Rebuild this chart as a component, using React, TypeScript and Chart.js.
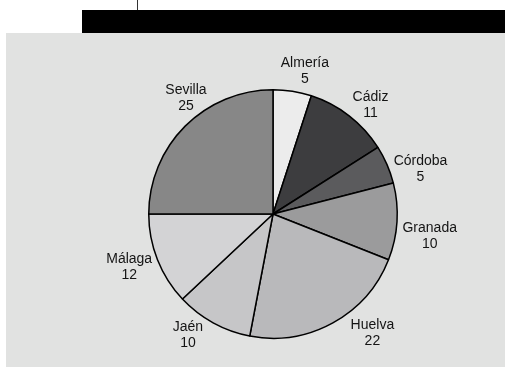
import React, { useEffect, useRef } from "react";
import { Chart, registerables } from "chart.js";

Chart.register(...registerables);

const provinces = ["Almería", "Cádiz", "Córdoba", "Granada", "Huelva", "Jaén", "Málaga", "Sevilla"];
const values = [5, 11, 5, 10, 22, 10, 12, 25];
const sliceColors = ["#ececec", "#3d3d3f", "#5b5b5d", "#9b9b9c", "#b9b9bb", "#c6c6c8", "#d3d3d5", "#878787"];

// label placement tweaks: [angle nudge in degrees, gap beyond the pie edge in px]
const LABEL_NUDGE: [number, number][] = [
  [3.6, 22],
  [4, 22],
  [6.4, 30],
  [4.4, 34],
  [-11, 31],
  [6.2, 24],
  [1.4, 29],
  [8.2, 21],
];

const labelPlugin = {
  id: "outerLabels",
  afterDatasetsDraw(chart: any) {
    const ctx = chart.ctx;
    const meta = chart.getDatasetMeta(0);
    ctx.save();
    ctx.font = "14px 'Liberation Sans', Arial, sans-serif";
    ctx.fillStyle = "#141414";
    ctx.textAlign = "center";
    ctx.textBaseline = "middle";
    meta.data.forEach((arc: any, i: number) => {
      const { x, y, startAngle, endAngle, outerRadius } = arc.getProps(
        ["x", "y", "startAngle", "endAngle", "outerRadius"],
        true
      );
      const [nudge, gap] = LABEL_NUDGE[i] || [0, 26];
      const mid = (startAngle + endAngle) / 2 + (nudge * Math.PI) / 180;
      const d = outerRadius + gap;
      const lx = x + Math.cos(mid) * d;
      const ly = y + Math.sin(mid) * d;
      ctx.fillText(provinces[i], lx, ly - 8);
      ctx.fillText(String(values[i]), lx, ly + 8);
    });
    ctx.restore();
  },
};

export default function App() {
  const canvasRef = useRef<HTMLCanvasElement | null>(null);

  useEffect(() => {
    if (!canvasRef.current) return;
    const chart = new Chart(canvasRef.current, {
      type: "pie",
      data: {
        labels: provinces,
        datasets: [
          {
            data: values,
            backgroundColor: sliceColors,
            borderColor: "#000000",
            borderWidth: 1.5,
          },
        ],
      },
      options: {
        animation: false,
        responsive: false,
        maintainAspectRatio: false,
        layout: { padding: { left: 142, right: 107, top: 56, bottom: 28 } },
        plugins: {
          legend: { display: false },
          tooltip: { enabled: false },
        },
      },
      plugins: [labelPlugin],
    });
    return () => chart.destroy();
  }, []);

  return (
    <div style={{ position: "fixed", left: 0, top: 0, width: 505, height: 367, background: "#ffffff", overflow: "hidden" }}>
      <div style={{ position: "absolute", left: 137, top: 0, width: 1, height: 10, background: "#333333" }} />
      <div style={{ position: "absolute", left: 82, top: 10, width: 423, height: 23, background: "#000000" }} />
      <div style={{ position: "absolute", left: 6, top: 33, width: 499, height: 334, background: "#e1e2e1" }}>
        <canvas ref={canvasRef} width={499} height={334} style={{ display: "block", width: 499, height: 334 }} />
      </div>
    </div>
  );
}
